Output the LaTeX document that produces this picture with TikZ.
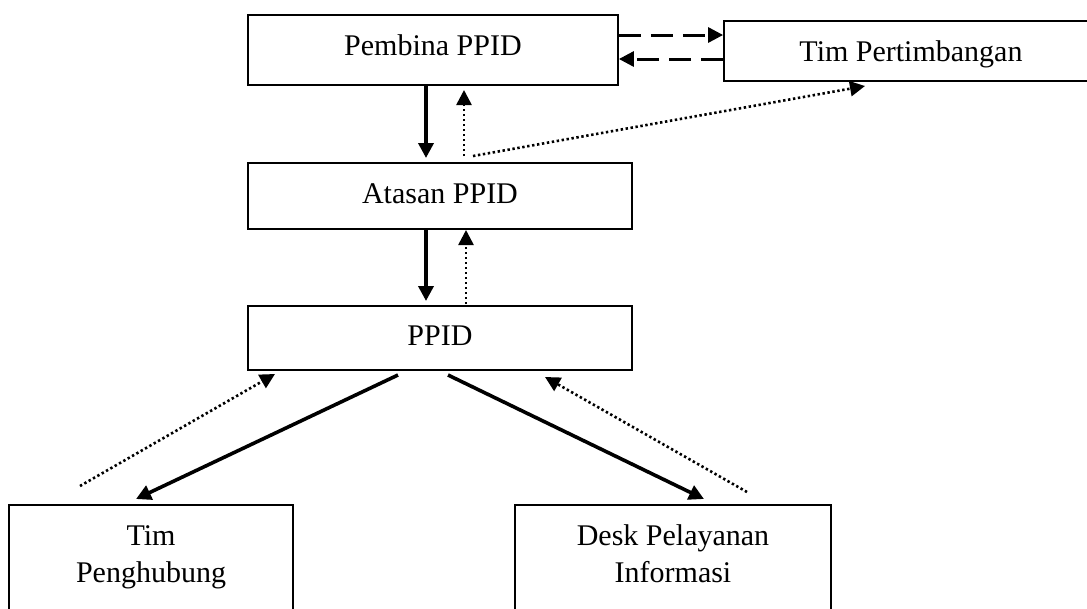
\documentclass[tikz,border=0pt]{standalone}
\usepackage{fontspec}
\setmainfont{Liberation Serif}
\usetikzlibrary{arrows.meta}
\begin{document}
\begin{tikzpicture}[x=1pt,y=-1pt,
  box/.style={draw=black,line width=1.8pt,inner sep=0pt,fill=white},
  lbl/.style={anchor=base,inner sep=0pt,font=\fontsize{30}{38}\selectfont},
  tip/.style={-{Triangle[length=15pt,width=15pt]}},
  solidarrow/.style={tip,line width=3.6pt},
  dashedarrow/.style={tip,line width=3pt,dash pattern=on 22pt off 10pt},
  dottedarrow/.style={tip,line width=2.6pt,dash pattern=on 2.4pt off 2.6pt}]
\path[use as bounding box] (0,0) rectangle (1087,608);
\clip (0,0) rectangle (1087,608);
\fill[white] (0,0) rectangle (1087,608);
% boxes
\node[box,minimum width=370pt,minimum height=70pt] (pembina) at (433,50) {};
\node[box,minimum width=376pt,minimum height=60pt] (tim) at (912,51) {};
\node[box,minimum width=384pt,minimum height=66pt] (atasan) at (440,196) {};
\node[box,minimum width=384pt,minimum height=64pt] (ppid) at (440,338) {};
\node[box,minimum width=284pt,minimum height=120pt] (penghubung) at (151,565) {};
\node[box,minimum width=316pt,minimum height=120pt] (desk) at (673,565) {};
% labels
\node[lbl] (tpembina) at (433,55) {Pembina PPID};
\node[lbl] (ttim) at (911,61) {Tim Pertimbangan};
\node[lbl] (tatasan) at (440,203) {Atasan PPID};
\node[lbl] (tppid) at (440,345) {PPID};
\node[lbl] (tpeng1) at (151,545) {Tim};
\node[lbl] (tpeng2) at (151,582) {Penghubung};
\node[lbl] (tdesk1) at (673,545) {Desk Pelayanan};
\node[lbl] (tdesk2) at (673,582) {Informasi};
% free ends
\coordinate (p1) at (426,86);   \coordinate (a1) at (426,158);
\coordinate (a2) at (464,156);  \coordinate (p2) at (464,90);
\coordinate (a3) at (473,156);  \coordinate (t1) at (865,86);
\coordinate (a4) at (426,230);  \coordinate (q1) at (426,301);
\coordinate (q2) at (466,304);  \coordinate (a5) at (466,230);
\coordinate (q3) at (398,375);  \coordinate (h1) at (136,499);
\coordinate (q4) at (448,375);  \coordinate (d1) at (704,499);
\coordinate (h2) at (80,486);   \coordinate (q5) at (275,374);
\coordinate (d2) at (747,492);  \coordinate (q6) at (545,377);
% connectors
\draw[dashedarrow] (pembina.east |- 0,35) -- (tim.west |- 0,35);
\draw[dashedarrow] (tim.west |- 0,59) -- (pembina.east |- 0,59);
\draw[solidarrow] (p1) -- (a1);
\draw[dottedarrow] (a2) -- (p2);
\draw[dottedarrow] (a3) -- (t1);
\draw[solidarrow] (a4) -- (q1);
\draw[dottedarrow] (q2) -- (a5);
\draw[solidarrow] (q3) -- (h1);
\draw[solidarrow] (q4) -- (d1);
\draw[dottedarrow] (h2) -- (q5);
\draw[dottedarrow] (d2) -- (q6);
\end{tikzpicture}
\end{document}
